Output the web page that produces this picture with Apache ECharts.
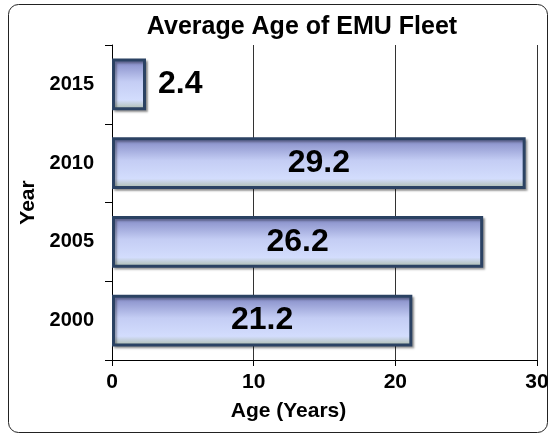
<!DOCTYPE html>
<html>
<head>
<meta charset="utf-8">
<style>
  body { margin: 0; padding: 0; background: #fff; }
  #chart { width: 552px; height: 435px; }
</style>
</head>
<body>
<div id="chart"></div>
<script src="https://cdn.jsdelivr.net/npm/echarts@6/dist/echarts.min.js"></script>
<script>
var years = ['2000', '2005', '2010', '2015'];
var ages = [21.2, 26.2, 29.2, 2.4];
var ageTicks = [0, 10, 20, 30];

var font = "'Liberation Sans', Arial, sans-serif";
var barFill = new echarts.graphic.LinearGradient(0, 0, 0, 1, [
  { offset: 0, color: '#7d84c2' },
  { offset: 0.45, color: '#c4cdf4' },
  { offset: 0.8, color: '#d3ddfd' },
  { offset: 1, color: '#a8b8a2' }
]);

var chart = echarts.init(document.getElementById('chart'));
chart.setOption({
  animation: false,
  title: {
    text: 'Average Age of EMU Fleet',
    left: 297,
    textAlign: 'center',
    top: 10,
    textStyle: { fontFamily: font, fontSize: 25, fontWeight: 'bold', color: '#000' }
  },
  graphic: [{
    type: 'rect',
    shape: { x: 8.5, y: 4.5, width: 539, height: 428, r: 10 },
    style: { fill: 'none', stroke: '#222', lineWidth: 1 },
    z: -1
  }],
  grid: { left: 112, right: 15, top: 45, bottom: 75 },
  xAxis: {
    type: 'value',
    min: ageTicks[0],
    max: ageTicks[ageTicks.length - 1],
    interval: 10,
    name: 'Age (Years)',
    nameLocation: 'middle',
    nameGap: 41,
    nameTextStyle: { fontFamily: font, fontSize: 21, fontWeight: 'bold', color: '#000', padding: [0, 72, 0, 0] },
    axisLine: { show: true, lineStyle: { color: '#000', width: 1 } },
    axisTick: { show: true, length: 6, lineStyle: { color: '#000' } },
    axisLabel: { fontFamily: font, fontSize: 21, fontWeight: 'bold', color: '#000', margin: 12 },
    splitLine: { show: true, lineStyle: { color: '#333', width: 1 } }
  },
  yAxis: {
    type: 'category',
    data: years,
    name: 'Year',
    nameLocation: 'middle',
    nameGap: 72,
    nameTextStyle: { fontFamily: font, fontSize: 21, fontWeight: 'bold', color: '#000' },
    axisLine: { show: true, lineStyle: { color: '#000', width: 1 } },
    axisTick: { show: true, length: 7, lineStyle: { color: '#000' } },
    axisLabel: { fontFamily: font, fontSize: 20, fontWeight: 'bold', color: '#000', margin: 18 }
  },
  series: [{
    type: 'bar',
    data: ages.map(function (v, i) {
      return {
        value: v,
        label: i === 3 ? { position: 'right', distance: 12 } : { position: 'inside' }
      };
    }),
    barWidth: '66%',
    itemStyle: {
      color: barFill,
      borderColor: '#2b4263',
      borderWidth: 3,
      shadowColor: 'rgba(0,0,0,0.3)',
      shadowOffsetX: 2,
      shadowOffsetY: 2,
      shadowBlur: 2
    },
    label: {
      show: true,
      fontFamily: font,
      fontSize: 32,
      fontWeight: 'bold',
      color: '#000'
    }
  }]
});
</script>
</body>
</html>
